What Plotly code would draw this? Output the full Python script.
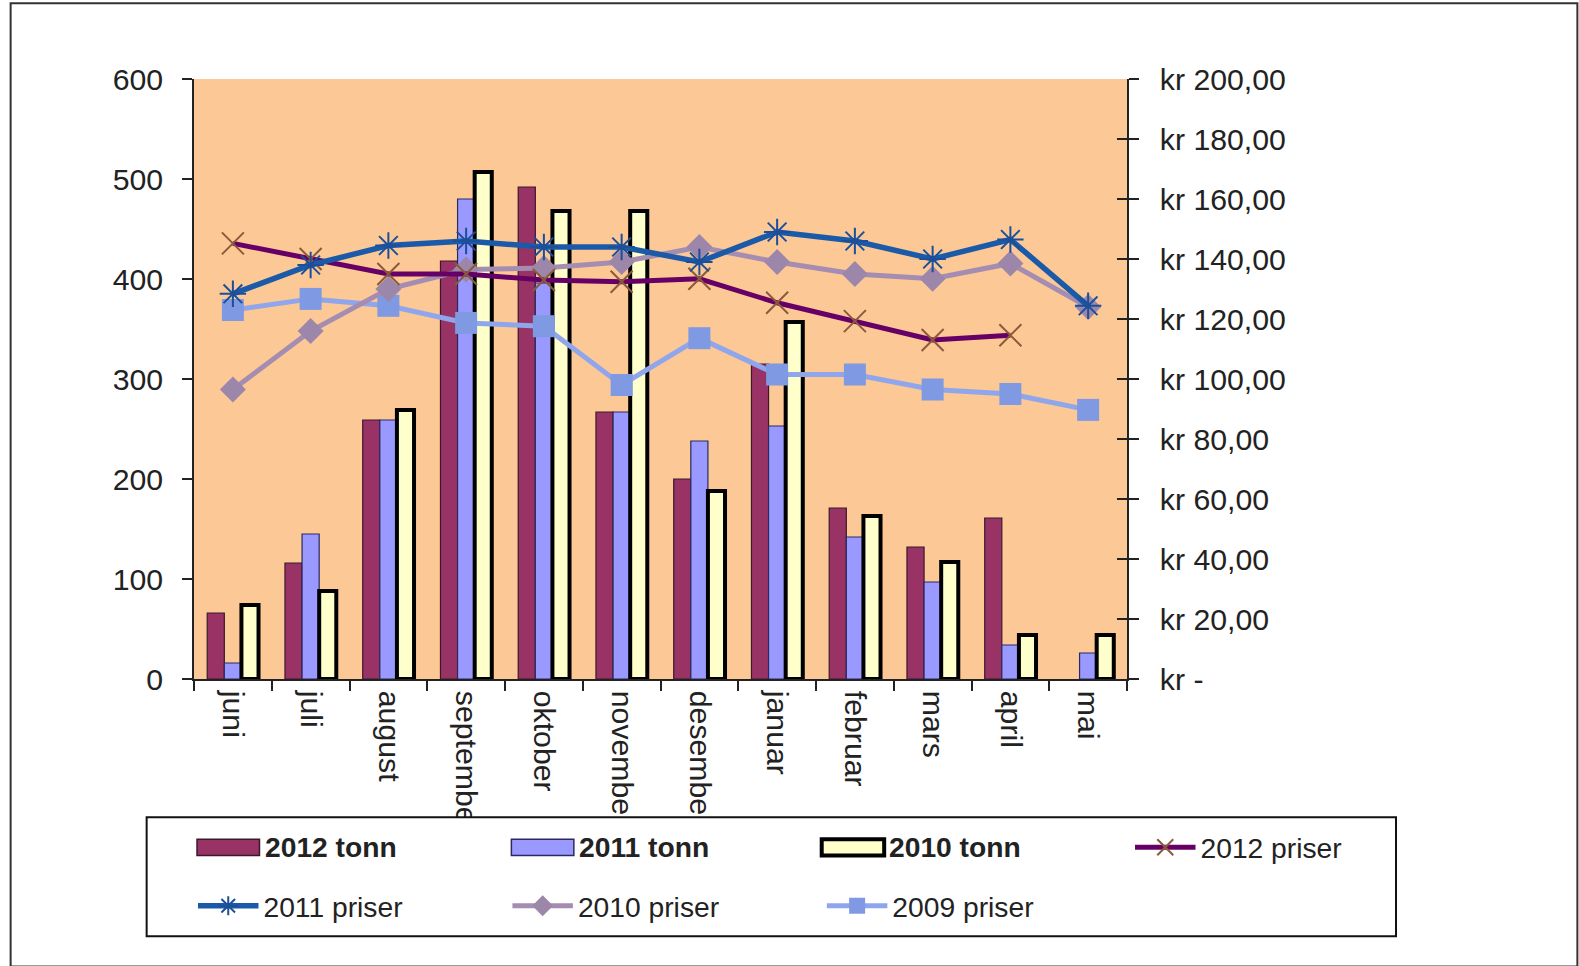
import plotly.graph_objects as go

months = ["juni", "juli", "august", "september", "oktober", "november",
          "desember", "januar", "februar", "mars", "april", "mai"]

tonn_2012 = [66, 116, 259, 418, 492, 267, 200, 315, 171, 132, 161, None]
tonn_2011 = [16, 145, 259, 480, 396, 267, 238, 253, 142, 97, 34, 26]
tonn_2010 = [74, 88, 269, 507, 468, 468, 188, 357, 163, 117, 44, 44]

priser_2012 = [145.2, 140.0, 135.0, 135.0, 133.0, 132.4, 133.4, 125.4, 119.3, 113.0, 114.6, None]
priser_2011 = [128.4, 138.0, 144.5, 146.0, 144.0, 144.0, 139.0, 149.0, 146.0, 140.0, 146.5, 124.4]
priser_2010 = [96.5, 116.0, 130.0, 136.5, 137.0, 139.0, 144.0, 139.0, 135.0, 133.4, 138.5, 124.0]
priser_2009 = [123.0, 126.7, 124.4, 118.7, 117.6, 98.0, 113.6, 101.5, 101.5, 96.5, 95.0, 89.7]

bar_names = ["2012 tonn", "2011 tonn", "2010 tonn"]
left_ticks = [0, 100, 200, 300, 400, 500, 600]
right_tickvals = [0, 20, 40, 60, 80, 100, 120, 140, 160, 180, 200]
right_ticktext = ["kr -", "kr 20,00", "kr 40,00", "kr 60,00", "kr 80,00", "kr 100,00",
                  "kr 120,00", "kr 140,00", "kr 160,00", "kr 180,00", "kr 200,00"]

# the photographed page comes out slightly reduced; compensate
S = 1.0082

FONT = "Liberation Sans, Arial, sans-serif"
TXT = "#222222"
TICK_FS = 30 * S
CAT_FS = 30 * S
LEG_FS = 28 * S

bar_fill = ["#993366", "#9999FF", "#FFFFCC"]
bar_line = ["#3a1a2a", "#2a2a60", "#000000"]
bar_lw = [1.2, 1.2, 4]

fig = go.Figure()

for vals, nm, fc, lc, lw in zip([tonn_2012, tonn_2011, tonn_2010], bar_names, bar_fill, bar_line, bar_lw):
    fig.add_trace(go.Bar(x=months, y=vals, name=nm, showlegend=False,
                         marker=dict(color=fc, line=dict(color=lc, width=lw))))

fig.add_trace(go.Scatter(x=months, y=priser_2009, name="2009 priser", yaxis="y2",
                         mode="lines+markers",
                         line=dict(color="#8FA6EC", width=5),
                         marker=dict(symbol="square", size=22, color="#7F99E3"),
                         legend="legend2", legendrank=3))
fig.add_trace(go.Scatter(x=months, y=priser_2010, name="2010 priser", yaxis="y2",
                         mode="lines+markers",
                         line=dict(color="#A48DB0", width=5),
                         marker=dict(symbol="diamond", size=20, color="#9C86AA"),
                         legend="legend2", legendrank=2))
fig.add_trace(go.Scatter(x=months, y=priser_2012, name="2012 priser", yaxis="y2",
                         mode="lines+markers",
                         line=dict(color="#660066", width=5),
                         marker=dict(symbol="x-thin", size=22, color="#8A5A3A",
                                     line=dict(color="#8A5A3A", width=2)),
                         legend="legend", legendrank=1))
fig.add_trace(go.Scatter(x=months, y=priser_2011, name="2011 priser", yaxis="y2",
                         mode="lines+markers",
                         line=dict(color="#1B5AA8", width=5.5),
                         marker=dict(symbol="asterisk-open", size=22, color="#1B4F9A",
                                     line=dict(color="#1B4F9A", width=2)),
                         legend="legend2", legendrank=1))

W0, H0 = 1579, 966
L, R, T, B = 192, 1118, 78, 673
pw, ph = R - L, B - T
W, H = round(W0 * S), round(H0 * S)

def px(x):
    return (x - L) / pw

def py(y):
    return (B - y) / ph

shapes = [
    dict(type="rect", xref="paper", yref="paper",
         x0=px(145), x1=px(1385), y0=py(928), y1=py(810),
         fillcolor="white", line=dict(color="#111", width=2), layer="above"),
    dict(type="rect", xref="paper", yref="paper",
         x0=px(10), x1=px(1565), y0=py(958), y1=py(3),
         fillcolor="rgba(0,0,0,0)", line=dict(color="#333", width=2), layer="above"),
]
annotations = []
leg_x = [195, 507, 815]
for i, nm in enumerate(bar_names):
    x0 = leg_x[i]
    shapes.append(dict(type="rect", xref="paper", yref="paper",
                       x0=px(x0), x1=px(x0 + 62), y0=py(848), y1=py(832),
                       fillcolor=bar_fill[i],
                       line=dict(color=bar_line[i], width=(4 if i == 2 else 1.5)),
                       layer="above"))
    annotations.append(dict(xref="paper", yref="paper", x=px(x0 + 65), y=py(840),
                            xanchor="left", yanchor="middle", showarrow=False,
                            text="<b>" + nm + "</b>",
                            font=dict(size=LEG_FS, family=FONT, color=TXT)))

fig.update_layout(
    width=W, height=H,
    margin=dict(l=L * S, r=(W0 - R) * S, t=T * S, b=(H0 - B) * S, autoexpand=False),
    paper_bgcolor="white",
    plot_bgcolor="#FCC896",
    barmode="group",
    bargap=0.34,
    bargroupgap=0.0,
    font=dict(family=FONT, size=LEG_FS, color=TXT),
    xaxis=dict(
        categoryorder="array", categoryarray=months, range=[-0.5, 11.5],
        tickangle=90, tickson="boundaries", ticks="outside", ticklen=10,
        tickcolor="#222", tickwidth=1.5,
        showline=True, linecolor="#222", linewidth=1.5,
        showgrid=False, zeroline=False, ticklabelstandoff=4,
        tickfont=dict(size=CAT_FS, family=FONT, color=TXT),
    ),
    yaxis=dict(
        range=[0, 600], tickvals=left_ticks, ticks="outside", ticklen=10,
        tickcolor="#222", tickwidth=1.5,
        showline=True, linecolor="#222", linewidth=1.5,
        showgrid=False, zeroline=False, ticklabelstandoff=13,
        tickfont=dict(size=TICK_FS, family=FONT, color=TXT),
    ),
    yaxis2=dict(
        range=[0, 200], overlaying="y", side="right",
        tickvals=right_tickvals, ticktext=right_ticktext,
        ticks="outside", ticklen=10, tickcolor="#222", tickwidth=1.5,
        showline=True, linecolor="#222", linewidth=1.5,
        showgrid=False, zeroline=False, ticklabelstandoff=15,
        tickfont=dict(size=TICK_FS, family=FONT, color=TXT),
    ),
    yaxis3=dict(
        range=[0, 200], overlaying="y", side="right",
        tickvals=right_tickvals, showticklabels=False,
        ticks="inside", ticklen=10, tickcolor="#222", tickwidth=1.5,
        showline=False, showgrid=False, zeroline=False,
    ),
    legend=dict(
        orientation="h", x=px(1121), xanchor="left", y=py(840), yanchor="middle",
        bgcolor="rgba(0,0,0,0)", borderwidth=0,
        entrywidthmode="pixels", entrywidth=237 * S, itemwidth=60 * S,
        font=dict(size=LEG_FS, family=FONT, color=TXT),
    ),
    legend2=dict(
        orientation="h", x=px(191), xanchor="left", y=py(898), yanchor="middle",
        bgcolor="rgba(0,0,0,0)", borderwidth=0,
        entrywidthmode="pixels", entrywidth=237 * S, itemwidth=60 * S,
        font=dict(size=LEG_FS, family=FONT, color=TXT),
    ),
    shapes=shapes,
    annotations=annotations,
)

# invisible helper trace so the inner tick marks of the right axis are drawn
fig.add_trace(go.Scatter(x=[months[0]], y=[None], yaxis="y3", showlegend=False,
                         hoverinfo="skip", mode="lines"))

fig.write_html("out.html", config={"displayModeBar": False},
               post_script="document.body.style.margin='0';document.body.style.overflow='hidden';")
